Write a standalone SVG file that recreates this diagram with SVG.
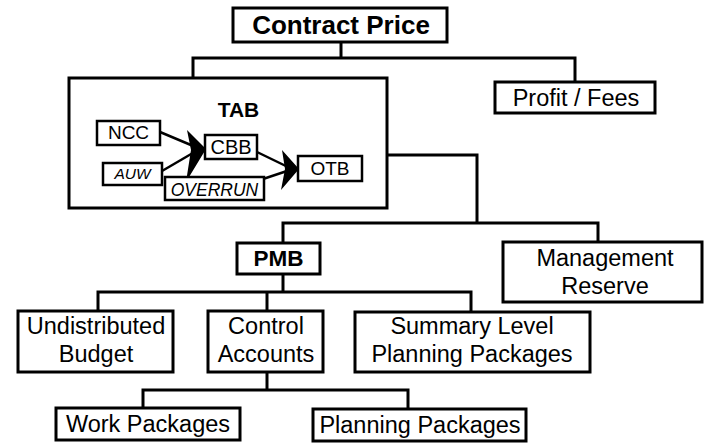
<svg xmlns="http://www.w3.org/2000/svg" width="711" height="443" viewBox="0 0 711 443">
<style>
.box{fill:#fff;stroke:#000;stroke-width:3}
.sbox{fill:#fff;stroke:#000;stroke-width:2.5}
.t{font-family:"Liberation Sans",Arial,sans-serif;font-size:23.5px;fill:#000;text-anchor:middle}
.b{font-weight:bold}
.i{font-style:italic}
.ln{fill:none;stroke:#000;stroke-width:3}
.al{fill:none;stroke:#000;stroke-width:2.5}
</style>
<rect width="711" height="443" fill="#fff"/>
<g id="connectors">
<polyline class="ln" points="341,42 341,58"/>
<polyline class="ln" points="193,79 193,58 575,58 575,82"/>
<polyline class="ln" points="387,155 477,155 477,223"/>
<polyline class="ln" points="283,243 283,223 598,223 598,242"/>
<polyline class="ln" points="283,274 283,292"/>
<polyline class="ln" points="98,311 98,292 471,292 471,311"/>
<polyline class="ln" points="267,292 267,311"/>
<polyline class="ln" points="267,372 267,390"/>
<polyline class="ln" points="143,408 143,390 408,390 408,408"/>
</g>
<g id="contract-price">
<rect class="box" x="233" y="8" width="214" height="34"/>
<text class="t b" x="341" y="34" style="font-size:26px">Contract Price</text>
</g>
<g id="profit-fees">
<rect class="box" x="495" y="82" width="160" height="31"/>
<text class="t" x="576" y="106">Profit / Fees</text>
</g>
<g id="tab">
<rect class="box" x="69" y="78" width="318" height="130"/>
<text class="t b" x="238.5" y="117" style="font-size:21px">TAB</text>
</g>
<g id="tab-arrows">
<line class="al" x1="160" y1="132" x2="198" y2="148"/>
<line class="al" x1="162" y1="171" x2="198" y2="150"/>
<polygon points="187,130 206,149 186,182 191,150" fill="#000"/>
<line class="al" x1="257" y1="152" x2="290" y2="168"/>
<line class="al" x1="263" y1="179" x2="290" y2="170"/>
<polygon points="282,150 299,169 281,190 285,169" fill="#000"/>
</g>
<g id="ncc">
<rect class="sbox" x="97" y="121" width="63" height="24"/>
<text class="t" x="128.5" y="139" style="font-size:19px">NCC</text>
</g>
<g id="auw">
<rect class="sbox" x="103" y="163" width="59" height="22"/>
<text class="t i" x="132.5" y="179" style="font-size:15.5px">AUW</text>
</g>
<g id="cbb">
<rect class="sbox" x="205" y="135" width="52" height="24"/>
<text class="t" x="231" y="154" style="font-size:20px">CBB</text>
</g>
<g id="overrun">
<rect class="sbox" x="165" y="177" width="99" height="23"/>
<text class="t i" x="214.5" y="196" style="font-size:17.5px">OVERRUN</text>
</g>
<g id="otb">
<rect class="sbox" x="298" y="156" width="64" height="25"/>
<text class="t" x="330" y="175" style="font-size:19px">OTB</text>
</g>
<g id="pmb">
<rect class="box" x="237" y="243" width="83" height="31"/>
<text class="t b" x="278.5" y="266" style="font-size:22.5px">PMB</text>
</g>
<g id="management-reserve">
<rect class="box" x="503" y="242" width="199" height="60"/>
<text class="t" x="605" y="266">Management</text>
<text class="t" x="605" y="294">Reserve</text>
</g>
<g id="undistributed-budget">
<rect class="box" x="18" y="311" width="155" height="61"/>
<text class="t" x="96" y="334">Undistributed</text>
<text class="t" x="96" y="362">Budget</text>
</g>
<g id="control-accounts">
<rect class="box" x="208" y="311" width="115" height="61"/>
<text class="t" x="266" y="334">Control</text>
<text class="t" x="266" y="362">Accounts</text>
</g>
<g id="summary-level">
<rect class="box" x="355" y="312" width="235" height="60"/>
<text class="t" x="472" y="334">Summary Level</text>
<text class="t" x="472" y="362">Planning Packages</text>
</g>
<g id="work-packages">
<rect class="box" x="56" y="408" width="184" height="32"/>
<text class="t" x="148" y="432">Work Packages</text>
</g>
<g id="planning-packages">
<rect class="box" x="313" y="409" width="213" height="32"/>
<text class="t" x="420" y="433">Planning Packages</text>
</g>
</svg>
